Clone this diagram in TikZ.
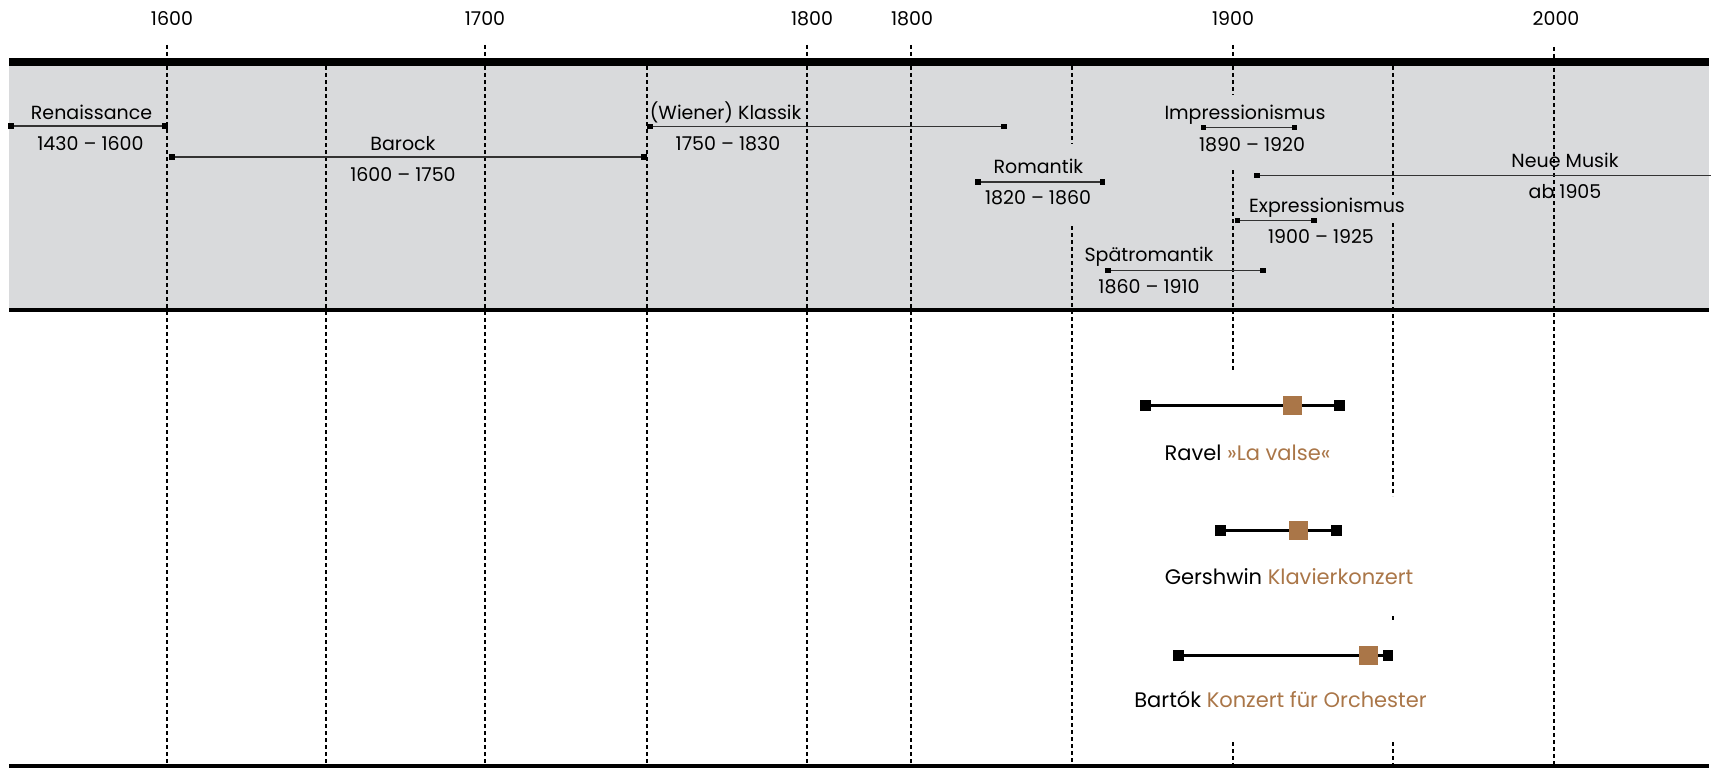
\documentclass[tikz,border=0pt]{standalone}
\usepackage{fontspec}
\setmainfont{Poppins}
\definecolor{Band}{HTML}{D9DADC}
\definecolor{Kupfer}{HTML}{AA7648}
\tikzset{
    raster/.style={draw=black, line width=1.1pt, dash pattern=on 4pt off 3pt},
    epoche/.style={draw=black!80, line width=1.4pt},
    eckpunkt/.style={fill=black, minimum size=5.5pt, inner sep=0pt, outer sep=0pt},
    werk/.style={draw=black, line width=2.5pt},
    werkpunkt/.style={fill=black, minimum size=10.5pt, inner sep=0pt, outer sep=0pt},
    kernpunkt/.style={fill=Kupfer, minimum size=19pt, inner sep=0pt},
    beschriftung/.style={anchor=base, inner sep=0pt, font=\fontsize{19}{22}\selectfont},
    werktitel/.style={beschriftung, font=\fontsize{21}{24}\selectfont},
}

\begin{document}
\begin{tikzpicture}[x=1pt, y=-1pt]

    \useasboundingbox (0,0) rectangle (1713,768);

    \def\links{9}
    \def\rechts{1709}

    % Band der Epochen
    \fill[Band] (\links,62) rectangle (\rechts,310);

    % Raster der Jahre
    \draw[raster] (167,45) -- (167,765);
    \draw[raster] (326,66) -- (326,765);
    \draw[raster] (485,45) -- (485,765);
    \draw[raster] (647,66) -- (647,765);
    \draw[raster] (807,45) -- (807,765);
    \draw[raster] (911,45) -- (911,765);
    \draw[raster] (1072,66) -- (1072,144);
    \draw[raster] (1072,226) -- (1072,765);
    \draw[raster] (1233,45) -- (1233,95);
    \draw[raster] (1233,170) -- (1233,370);
    \draw[raster] (1233,742) -- (1233,765);
    \draw[raster] (1393,66) -- (1393,195);
    \draw[raster] (1393,223) -- (1393,496);
    \draw[raster] (1393,616) -- (1393,621);
    \draw[raster] (1393,742) -- (1393,765);
    \draw[raster] (1554,47) -- (1554,765);

    \draw[line width=7.5pt] (\links,62) -- (\rechts,62);
    \draw[line width=4pt] (\links,310) -- (\rechts,310);
    \draw[line width=4pt] (\links,766) -- (\rechts,766);

    % Jahreszahlen
    \node[beschriftung] (j1600) at (172,26) {1600};
    \node[beschriftung] (j1700) at (485,26) {1700};
    \node[beschriftung] (j1800) at (812,26) {1800};
    \node[beschriftung] (j1800b) at (912,26) {1800};
    \node[beschriftung] (j1900) at (1233,26) {1900};
    \node[beschriftung] (j2000) at (1556,26) {2000};

    % Epochen
    \node[eckpunkt] (renA) at (11,126) {};
    \node[eckpunkt] (renB) at (165,126) {};
    \draw[epoche] (renA) -- (renB);
    \node[beschriftung] (renName) at (91.5,119) {Renaissance};
    \node[beschriftung] (renZeit) at (90.5,150.5) {1430 – 1600};

    \node[eckpunkt] (barA) at (172,157) {};
    \node[eckpunkt] (barB) at (644,157) {};
    \draw[epoche] (barA) -- (barB);
    \node[beschriftung] (barName) at (403,150.5) {Barock};
    \node[beschriftung] (barZeit) at (403,181.5) {1600 – 1750};

    \node[eckpunkt] (klaA) at (650,126.7) {};
    \node[eckpunkt] (klaB) at (1004,126.7) {};
    \draw[epoche] (klaA) -- (klaB);
    \node[beschriftung] (klaName) at (725.6,119) {(Wiener) Klassik};
    \node[beschriftung] (klaZeit) at (728,150) {1750 – 1830};

    \node[eckpunkt] (romA) at (978,182) {};
    \node[eckpunkt] (romB) at (1102.7,182) {};
    \draw[epoche] (romA) -- (romB);
    \node[beschriftung] (romName) at (1038.4,173) {Romantik};
    \node[beschriftung] (romZeit) at (1038,204) {1820 – 1860};

    \node[eckpunkt] (spaA) at (1108,270.7) {};
    \node[eckpunkt] (spaB) at (1263,270.7) {};
    \draw[epoche] (spaA) -- (spaB);
    \node[beschriftung] (spaName) at (1149,261.5) {Spätromantik};
    \node[beschriftung] (spaZeit) at (1149,293) {1860 – 1910};

    \node[eckpunkt] (impA) at (1203.6,127.7) {};
    \node[eckpunkt] (impB) at (1294.3,127.7) {};
    \draw[epoche] (impA) -- (impB);
    \node[beschriftung] (impName) at (1245,119) {Impressionismus};
    \node[beschriftung] (impZeit) at (1252,151) {1890 – 1920};

    \node[eckpunkt] (neuA) at (1257,175.7) {};
    \coordinate (neuB) at (1711,175.7);
    \draw[epoche] (neuA) -- (neuB);
    \node[beschriftung] (neuName) at (1565,167) {Neue Musik};
    \node[beschriftung] (neuZeit) at (1565,198) {ab 1905};

    \node[eckpunkt] (expA) at (1237.6,220.7) {};
    \node[eckpunkt] (expB) at (1314.2,220.7) {};
    \draw[epoche] (expA) -- (expB);
    \node[beschriftung] (expName) at (1327,212.5) {Expressionismus};
    \node[beschriftung] (expZeit) at (1321,243) {1900 – 1925};

    % Werke
    \node[werkpunkt] (ravA) at (1145.5,405.3) {};
    \node[werkpunkt] (ravB) at (1339.5,405.3) {};
    \draw[werk] (ravA) -- (ravB);
    \node[kernpunkt] (ravK) at (1292,405.3) {};
    \node[werktitel] (ravName) at (1247.5,460) {Ravel \textcolor{Kupfer}{»La valse«}};

    \node[werkpunkt] (gerA) at (1220.7,530.7) {};
    \node[werkpunkt] (gerB) at (1336.3,530.7) {};
    \draw[werk] (gerA) -- (gerB);
    \node[kernpunkt] (gerK) at (1298.3,530.7) {};
    \node[werktitel] (gerName) at (1289,584.3) {Gershwin \textcolor{Kupfer}{Klavierkonzert}};

    \node[werkpunkt] (barKA) at (1178.5,655.7) {};
    \node[werkpunkt] (barKB) at (1388,655.7) {};
    \draw[werk] (barKA) -- (barKB);
    \node[kernpunkt] (barKK) at (1368.3,655.7) {};
    \node[werktitel] (barKName) at (1280.5,707.7) {Bartók \textcolor{Kupfer}{Konzert für Orchester}};
\end{tikzpicture}
\end{document}
